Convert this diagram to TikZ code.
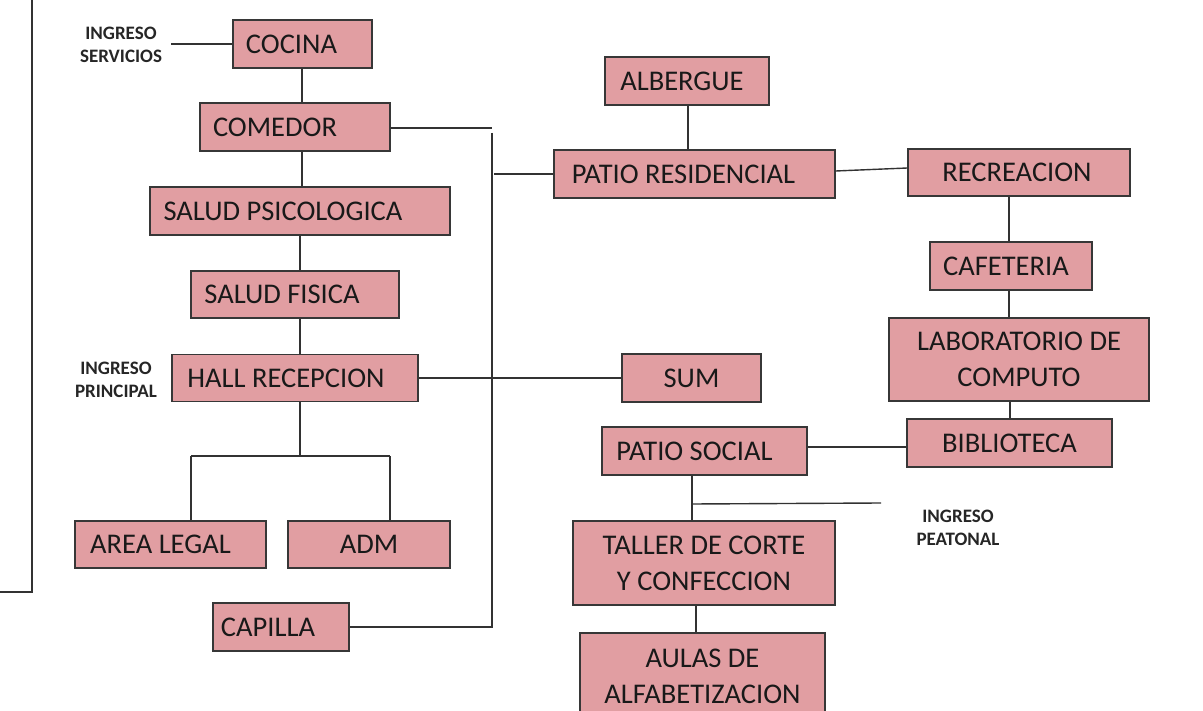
\documentclass[tikz,border=0pt]{standalone}
\usepackage{fontspec}
\setmainfont{Carlito}
\usetikzlibrary{calc}
\definecolor{boxfill}{RGB}{225,158,162}
\definecolor{boxline}{RGB}{55,55,55}
\definecolor{conn}{RGB}{50,50,50}
\newcommand{\shl}[1]{\hspace*{#1pt}}
\begin{document}
\begin{tikzpicture}[x=1pt,y=-1pt,
  roombox/.style={draw=boxline, line width=1.3pt, fill=boxfill, inner sep=0pt,
    font=\fontsize{28.5}{36}\selectfont, align=center, text=black!90},
  entrylbl/.style={font=\fontsize{19}{23}\selectfont\bfseries, align=center, inner sep=0pt, text=black!85},
  link/.style={draw=conn, line width=1.4pt}]
\useasboundingbox (0,0) rectangle (1203,711);
\clip (0,0) rectangle (1203,711);
\fill[white] (0,0) rectangle (1203,711);

% left frame
\coordinate (fa) at (0,592);
\coordinate (fb) at (32,592);
\coordinate (fc) at (32,0);
\draw[link] (fa) -- (fb) -- (fc);

% boxes
\node[roombox, minimum width=139, minimum height=48] (cocina) at (302.5,44) {COCINA\shl{22}};
\node[roombox, minimum width=190, minimum height=48] (comedor) at (295,127) {COMEDOR\shl{40}};
\node[roombox, minimum width=300, minimum height=48] (psico) at (300,211) {SALUD PSICOLOGICA\shl{34}};
\node[roombox, minimum width=208, minimum height=47] (fisica) at (295,294.5) {SALUD FISICA\shl{26}};
\node[roombox, minimum width=246, minimum height=47] (hall) at (295,378) {HALL RECEPCION\shl{18}};
\node[roombox, minimum width=191, minimum height=47] (legal) at (170.5,544.5) {AREA LEGAL\shl{20}};
\node[roombox, minimum width=162, minimum height=47] (adm) at (369,544.5) {ADM};
\node[roombox, minimum width=136, minimum height=48] (capilla) at (281,627) {CAPILLA\shl{26}};
\node[roombox, minimum width=164, minimum height=48] (albergue) at (687,81) {ALBERGUE\shl{10}};
\node[roombox, minimum width=281, minimum height=48] (pres) at (694.5,174) {PATIO RESIDENCIAL\shl{22}};
\node[roombox, minimum width=222, minimum height=47] (recre) at (1019,172.5) {RECREACION\shl{4}};
\node[roombox, minimum width=162, minimum height=48] (cafe) at (1011,266) {CAFETERIA\shl{10}};
\node[roombox, minimum width=260, minimum height=83] (lab) at (1019,359.5) {LABORATORIO DE\\COMPUTO};
\node[roombox, minimum width=205, minimum height=48] (biblio) at (1009.5,443) {BIBLIOTECA};
\node[roombox, minimum width=139, minimum height=48] (sum) at (691.5,378) {SUM};
\node[roombox, minimum width=205, minimum height=48] (psoc) at (704.5,451) {PATIO SOCIAL\shl{20}};
\node[roombox, minimum width=262, minimum height=84] (taller) at (704,563) {TALLER DE CORTE\\Y CONFECCION};
\node[roombox, minimum width=245, minimum height=86] (aulas) at (702.5,676) {AULAS DE\\ALFABETIZACION};

% entry labels
\node[entrylbl] (ingserv) at (121,45) {INGRESO\\SERVICIOS};
\node[entrylbl] (ingprin) at (116,380) {INGRESO\\PRINCIPAL};
\node[entrylbl] (ingpeat) at (958,528) {INGRESO\\PEATONAL};

% free-end coordinates
\coordinate (servend) at (171,44);
\coordinate (comend) at (492,128);
\coordinate (bustop) at (492,133);
\coordinate (busbot) at (492,627);
\coordinate (resstart) at (494,174);
\coordinate (hallj) at (300,456);
\coordinate (legj) at (191,456);
\coordinate (admj) at (390,456);
\coordinate (socj) at (692,504);
\coordinate (peatend) at (881,503);

% connectors
\draw[link] (servend) -- (cocina.west);
\draw[link] (cocina.south -| 302,0) -- (comedor.north -| 302,0);
\draw[link] (comedor.east |- comend) -- (comend);
\draw[link] (bustop) -- (busbot) -- (capilla.east);
\draw[link] (resstart) -- (pres.west);
\draw[link] (comedor.south -| 302,0) -- (psico.north -| 302,0);
\draw[link] (psico.south -| 300,0) -- (fisica.north -| 300,0);
\draw[link] (fisica.south -| 300,0) -- (hall.north -| 300,0);
\draw[link] (hall.east) -- (sum.west);
\draw[link] (hall.south -| hallj) -- (hallj);
\draw[link] (legj) -- (admj);
\draw[link] (legj) -- (legj |- legal.north);
\draw[link] (admj) -- (admj |- adm.north);
\draw[link] (albergue.south -| 688,0) -- (pres.north -| 688,0);
\draw[link] ($(pres.east)+(0,-3)$) -- ($(recre.west)+(0,-4.5)$);
\draw[link] (recre.south -| 1009,0) -- (cafe.north -| 1009,0);
\draw[link] (cafe.south -| 1009,0) -- (lab.north -| 1009,0);
\draw[link] (lab.south -| 1010,0) -- (biblio.north -| 1010,0);
\draw[link] (psoc.east |- 0,447) -- (biblio.west |- 0,447);
\draw[link] (psoc.south -| socj) -- (taller.north -| socj);
\draw[link] (socj) -- (peatend);
\draw[link] (taller.south -| 696,0) -- (aulas.north -| 696,0);
\end{tikzpicture}
\end{document}
